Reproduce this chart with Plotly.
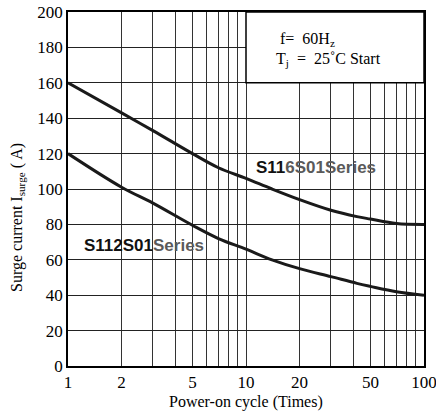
import plotly.graph_objects as go

cycles = [1, 2, 3, 5, 7, 10, 14, 20, 30, 42, 50, 70, 100]
s116 = [160, 143, 133, 120, 112, 106, 100, 94, 88, 84.4, 83, 80.5, 80]
s112 = [120, 101, 92, 79.5, 72, 66, 60, 55, 50.5, 46.7, 45, 42, 40]

tick_vals = [1, 2, 3, 4, 5, 6, 7, 8, 9, 10, 20, 30, 40, 50, 60, 70, 80, 90, 100]
tick_text = ["1", "2", "", "", "5", "", "", "", "", "10", "20", "", "", "50", "", "", "", "", "100"]
y_ticks = [0, 20, 40, 60, 80, 100, 120, 140, 160, 180, 200]

serif = "Liberation Serif"
sans = "Liberation Sans"

fig = go.Figure()
fig.add_trace(go.Scatter(x=cycles, y=s116, mode="lines", line=dict(color="#1a1a1a", width=3, shape="spline"),
                         showlegend=False, hoverinfo="skip"))
fig.add_trace(go.Scatter(x=cycles, y=s112, mode="lines", line=dict(color="#1a1a1a", width=3, shape="spline"),
                         showlegend=False, hoverinfo="skip"))

fig.update_layout(
    width=436, height=414,
    margin=dict(l=68, r=12, t=12, b=48),
    paper_bgcolor="white", plot_bgcolor="white",
    font=dict(family=serif, size=17, color="black"),
    xaxis=dict(type="log", range=[0, 2], tickvals=tick_vals, ticktext=tick_text,
               showgrid=True, gridcolor="#333333", gridwidth=1,
               showline=True, linecolor="black", linewidth=1.5, mirror=True,
               ticks="", tickfont=dict(family=serif, size=17), zeroline=False,
               ticklabeloverflow="allow", automargin=False),
    yaxis=dict(range=[0, 200], tickvals=y_ticks,
               showgrid=True, gridcolor="#222222", gridwidth=1,
               showline=True, linecolor="black", linewidth=1.5, mirror=True,
               ticks="", tickfont=dict(family=serif, size=17), zeroline=False,
               ticklabeloverflow="allow", automargin=False),
)

# white box for conditions
fig.add_shape(type="rect", xref="x", yref="y", x0=10, x1=100, y0=160, y1=200,
              fillcolor="white", line=dict(color="black", width=1.5), layer="above")

fig.add_annotation(xref="paper", yref="paper", x=(278 - 68) / 356, y=(366 - 39) / 354,
                   text="f=  60H<sub>z</sub>", showarrow=False, xanchor="left", yanchor="middle",
                   font=dict(family=serif, size=16))
fig.add_annotation(xref="paper", yref="paper", x=(274 - 68) / 356, y=(366 - 60) / 354,
                   text="T<sub>j</sub>  =  25˚C Start", showarrow=False, xanchor="left", yanchor="middle",
                   font=dict(family=serif, size=16))

fig.add_annotation(xref="paper", yref="paper", x=(254 - 68) / 356, y=(366 - 167) / 354,
                   text="<b><span style='color:#111'>S11</span><span style='color:#5a5a5a'>6S01Series</span></b>",
                   showarrow=False, xanchor="left", yanchor="middle",
                   font=dict(family=sans, size=17))
fig.add_annotation(xref="paper", yref="paper", x=(82 - 68) / 356, y=(366 - 245) / 354,
                   text="<b><span style='color:#111'>S112S01</span><span style='color:#5a5a5a'>Series</span></b>",
                   showarrow=False, xanchor="left", yanchor="middle",
                   font=dict(family=sans, size=17))

fig.add_annotation(xref="paper", yref="paper", x=(17 - 68) / 356, y=(366 - 218) / 354,
                   text="Surge current I<sub>surge</sub> ( A)", textangle=-90, showarrow=False,
                   xanchor="center", yanchor="middle", font=dict(family=serif, size=16))
fig.add_annotation(xref="paper", yref="paper", x=0.5, y=(366 - 402) / 354,
                   text="Power-on cycle (Times)", showarrow=False,
                   xanchor="center", yanchor="middle", font=dict(family=serif, size=16))

fig.write_html("out.html", config={"displayModeBar": False},
               post_script="document.body.style.margin='0px';")
